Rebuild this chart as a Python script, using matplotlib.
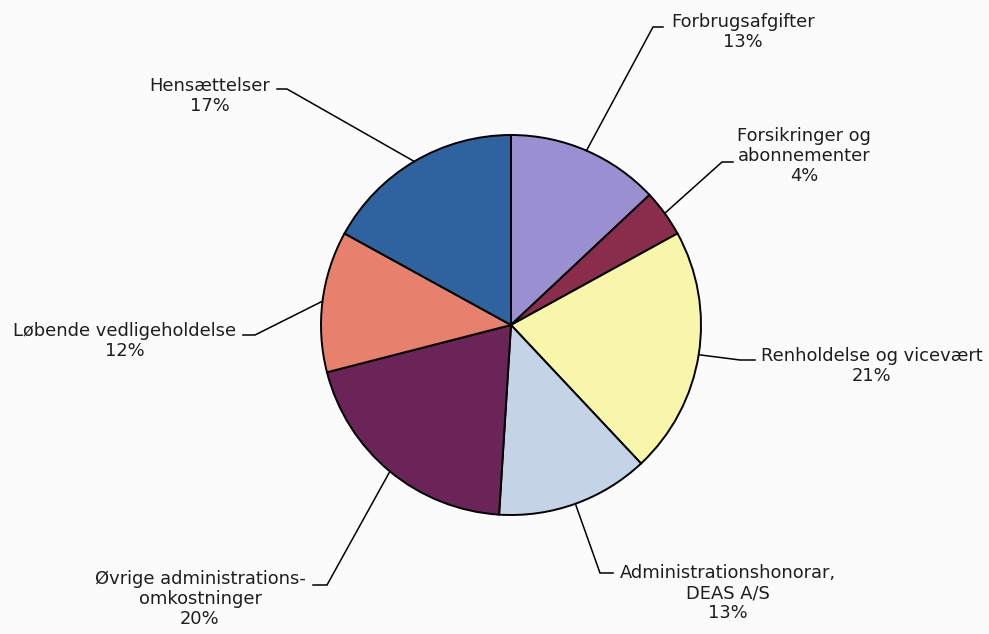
import matplotlib
matplotlib.use("Agg")
import numpy as np
import matplotlib.pyplot as plt

# data
categories = [
    "Forbrugsafgifter",
    "Forsikringer og\nabonnementer",
    "Renholdelse og vicevært",
    "Administrationshonorar,\nDEAS A/S",
    "Øvrige administrations-\nomkostninger",
    "Løbende vedligeholdelse",
    "Hensættelser",
]
shares = [13, 4, 21, 13, 20, 12, 17]
colors = ["#9a8fd0", "#8a2d4c", "#f8f6aa", "#c5d3e6", "#6a2458", "#e8806e", "#2f63a0"]

# layout (pixel coords, y measured from top of image)
W, H = 989, 634
CENTER = (511, 325)
RADIUS = 190
# elbow of leader line, end of short horizontal tick, text centre
elbows = [(653, 27), (722, 162), (740, 360), (600, 573), (327, 585), (255, 335), (287, 89)]
tick_ends = [(663, 27), (733, 162), (755, 360), (613, 573), (313, 585), (243, 335), (277, 89)]
text_pos = [(743, 32), (804, 156), (872, 366), (728, 593), (200, 599), (125, 341), (210, 96)]

fig = plt.figure(figsize=(W / 100, H / 100), dpi=100)
fig.patch.set_facecolor("#fbfbfb")
ax = fig.add_axes([0, 0, 1, 1])

wedges, _ = ax.pie(shares, colors=colors, startangle=90, counterclock=False,
                   center=(CENTER[0], H - CENTER[1]), radius=RADIUS,
                   wedgeprops=dict(edgecolor="black", linewidth=1.4))
ax.set_xlim(0, W)
ax.set_ylim(0, H)
ax.set_aspect("equal")
ax.axis("off")

for w, cat, val, el, te, tp in zip(wedges, categories, shares, elbows, tick_ends, text_pos):
    mid = np.deg2rad((w.theta1 + w.theta2) / 2)
    x0 = CENTER[0] + RADIUS * np.cos(mid)
    y0 = (H - CENTER[1]) + RADIUS * np.sin(mid)
    ax.plot([x0, el[0], te[0]], [y0, H - el[1], H - te[1]], color="black", lw=1.1,
            solid_joinstyle="miter")
    ax.text(tp[0], H - tp[1], f"{cat}\n{val}%", ha="center", va="center",
            fontsize=12.9, color="#1e1e1e", linespacing=1.12, family="DejaVu Sans")

fig.savefig("out.png", dpi=100, facecolor=fig.get_facecolor())
